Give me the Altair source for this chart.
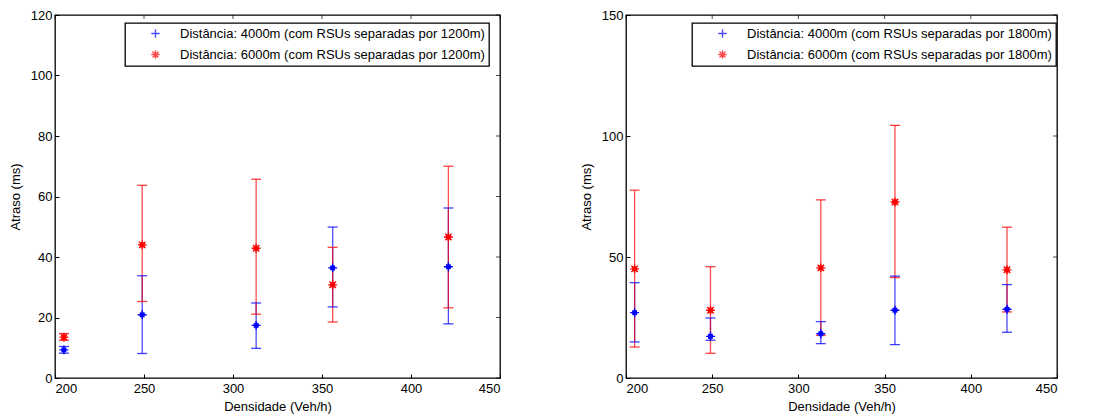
import altair as alt
import pandas as pd

# ---------------- data ----------------
x_vals = [205, 249, 313, 356, 421]

# left panel (RSUs separated by 1200 m)
blue_mean_L = [9.3, 20.9, 17.4, 36.4, 36.8]
blue_hi_L = [10.4, 33.8, 24.8, 49.9, 56.2]
blue_lo_L = [8.2, 8.1, 9.8, 23.5, 17.9]
red_mean_L = [13.5, 44.0, 42.9, 30.8, 46.6]
red_hi_L = [14.7, 63.7, 65.7, 43.2, 70.0]
red_lo_L = [12.5, 25.3, 21.1, 18.5, 23.2]

# right panel (RSUs separated by 1800 m)
blue_mean_R = [27.0, 17.2, 18.3, 28.0, 28.4]
blue_hi_R = [39.4, 24.8, 23.3, 42.1, 38.6]
blue_lo_R = [14.9, 15.6, 14.2, 13.8, 18.9]
red_mean_R = [45.1, 28.0, 45.5, 72.7, 44.7]
red_hi_R = [77.6, 46.0, 73.6, 104.4, 62.3]
red_lo_R = [12.8, 10.2, 17.6, 41.5, 27.3]

labels_L = ["Distância: 4000m (com RSUs separadas por 1200m)",
            "Distância: 6000m (com RSUs separadas por 1200m)"]
labels_R = ["Distância: 4000m (com RSUs separadas por 1800m)",
            "Distância: 6000m (com RSUs separadas por 1800m)"]

x_ticks = [200, 250, 300, 350, 400, 450]
y_ticks_L = [0, 20, 40, 60, 80, 100, 120]
y_ticks_R = [0, 50, 100, 150]

x_title = "Densidade (Veh/h)"
y_title = "Atraso (ms)"

colors = ["#0000ff", "#ff0000"]
PLUS = "M-1,0L1,0M0,-1L0,1"
STAR = "M-1,0L1,0M0,-1L0,1M-0.72,-0.72L0.72,0.72M-0.72,0.72L0.72,-0.72"
FONT = "Liberation Sans"


def panel(labels, bm, bh, bl, rm, rh, rl, ymax, yticks, width, legx):
    pts = pd.DataFrame({
        "x": x_vals * 2,
        "y": bm + rm,
        "lo": bl + rl,
        "hi": bh + rh,
        "s": [labels[0]] * 5 + [labels[1]] * 5,
    })
    caps = pd.DataFrame({
        "x": x_vals * 4,
        "y": bl + bh + rl + rh,
        "s": [labels[0]] * 10 + [labels[1]] * 10,
    })
    top_ticks = pd.DataFrame({"x": x_ticks, "y": [ymax] * len(x_ticks)})
    right_ticks = pd.DataFrame({"x": [450] * len(yticks), "y": yticks})

    xs = alt.Scale(domain=[200, 450], nice=False, zero=False)
    ys = alt.Scale(domain=[0, ymax], nice=False)
    x_axis = alt.Axis(values=x_ticks, title=x_title, grid=False, domain=False,
                      tickSize=4, offset=-4, labelPadding=4, titlePadding=5,
                      format="d")
    y_axis = alt.Axis(values=yticks, title=y_title, grid=False, domain=False,
                      tickSize=4, offset=-4, labelPadding=3, titlePadding=8,
                      format="d")
    X = alt.X("x:Q", scale=xs, axis=x_axis)
    Y = alt.Y("y:Q", scale=ys, axis=y_axis)
    leg = alt.Legend(title=None, orient="none", legendX=legx, legendY=8)
    col = alt.Color("s:N", scale=alt.Scale(domain=labels, range=colors), legend=leg)
    shp = alt.Shape("s:N", scale=alt.Scale(domain=labels, range=[PLUS, STAR]),
                    legend=leg)

    bars = alt.Chart(pts).mark_rule(strokeWidth=1.3, opacity=0.7).encode(
        x=X, y=alt.Y("lo:Q", scale=ys, axis=y_axis), y2="hi:Q", color=col)
    cap = alt.Chart(caps).mark_tick(orient="horizontal", size=10, thickness=1.3,
                                    opacity=0.75).encode(x=X, y=Y, color=col)
    dots = alt.Chart(pts).mark_point(shape="square", filled=True, size=24,
                                     opacity=1).encode(x=X, y=Y, color=col)
    marks = alt.Chart(pts).mark_point(filled=False, size=80, strokeWidth=1.4,
                                      opacity=1).encode(x=X, y=Y, color=col, shape=shp)
    tt = alt.Chart(top_ticks).mark_tick(orient="vertical", size=4, thickness=1,
                                        yOffset=2, color="black").encode(x=X, y=Y)
    rt = alt.Chart(right_ticks).mark_tick(orient="horizontal", size=4, thickness=1,
                                          xOffset=-2, color="black").encode(x=X, y=Y)
    return alt.layer(bars, cap, dots, marks, tt, rt).properties(
        width=width, height=363)


left = panel(labels_L, blue_mean_L, blue_hi_L, blue_lo_L,
             red_mean_L, red_hi_L, red_lo_L, 120, y_ticks_L, 445, 70)
right = panel(labels_R, blue_mean_R, blue_hi_R, blue_lo_R,
              red_mean_R, red_hi_R, red_lo_R, 150, y_ticks_R, 431, 66)

chart = alt.hconcat(left, right, spacing=77).resolve_scale(
    color="independent", shape="independent", x="independent", y="independent"
).properties(
    padding=0
).configure_view(
    stroke="black", strokeWidth=1.3
).configure_axis(
    labelFont=FONT, titleFont=FONT, labelFontSize=13, titleFontSize=13,
    titleFontWeight="normal", labelColor="black", titleColor="black",
    tickColor="black", tickWidth=1
).configure_legend(
    labelFont=FONT, labelFontSize=13, labelColor="black", labelLimit=1000,
    strokeColor="black", fillColor="white", padding=4, rowPadding=6,
    symbolOffset=20, labelOffset=18, symbolSize=70, symbolStrokeWidth=1.3,
    cornerRadius=0, strokeWidth=1.3
)

chart.save("out.html", embed_options={"renderer": "svg", "actions": False})
